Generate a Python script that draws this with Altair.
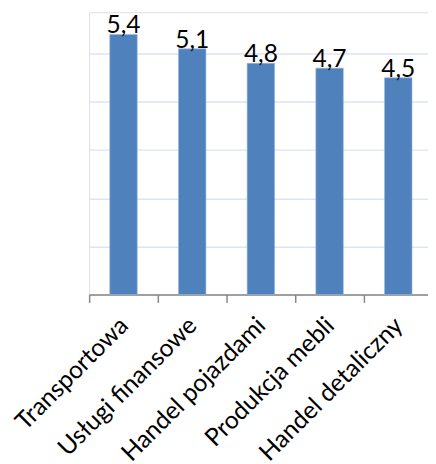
import altair as alt
import pandas as pd

categories = ["Transportowa", "Usługi finansowe", "Handel pojazdami", "Produkcja mebli", "Handel detaliczny"]
values = [5.4, 5.1, 4.8, 4.7, 4.5]
grid_values = [1, 2, 3, 4, 5]

df = pd.DataFrame({"kategoria": categories, "wartosc": values})

FONT = "Lato"

x_enc = alt.X(
    "kategoria:N",
    sort=categories,
    scale=alt.Scale(range=[0, 350], paddingInner=0, paddingOuter=0),
    axis=alt.Axis(
        title=None,
        labelAngle=-45,
        labelAlign="right",
        labelBaseline="middle",
        labelFont=FONT,
        labelFontSize=25,
        labelColor="#000000",
        labelPadding=19,
        labelOverlap=False,
        labelLimit=300,
        tickBand="extent",
        tickColor="#868686",
        tickSize=8,
        tickWidth=1.5,
        domainColor="#868686",
        domainWidth=1.5,
        grid=False,
    ),
)

y_enc = alt.Y(
    "wartosc:Q",
    scale=alt.Scale(domain=[0, 5.86], nice=False, zero=True),
    axis=alt.Axis(
        title=None,
        values=grid_values,
        labels=False,
        ticks=False,
        domain=False,
        grid=True,
        gridColor="#DCE5F3",
        gridWidth=1.5,
    ),
)

bars = alt.Chart(df).mark_bar(
    color="#4F81BD", stroke="#9DB5D8", strokeWidth=0.6,
    width=alt.RelativeBandSize(0.4),
).encode(x=x_enc, y=y_enc)

labels = alt.Chart(df).transform_calculate(
    lab="replace(format(datum.wartosc, '.1f'), '.', ',')"
).mark_text(
    font=FONT, fontSize=25, color="#000000", baseline="alphabetic", dy=-1
).encode(
    x=alt.X("kategoria:N", sort=categories),
    y="wartosc:Q",
    text="lab:N",
)

chart = alt.layer(bars, labels).properties(
    width=345.3,
    height=287.7,
    autosize=alt.AutoSizeParams(type="none"),
    padding={"left": 82.7, "top": 0, "right": 0, "bottom": 168},
).configure_view(stroke=None).configure(background="#ffffff")

chart.save("out.html", embed_options={"renderer": "svg", "actions": False})
